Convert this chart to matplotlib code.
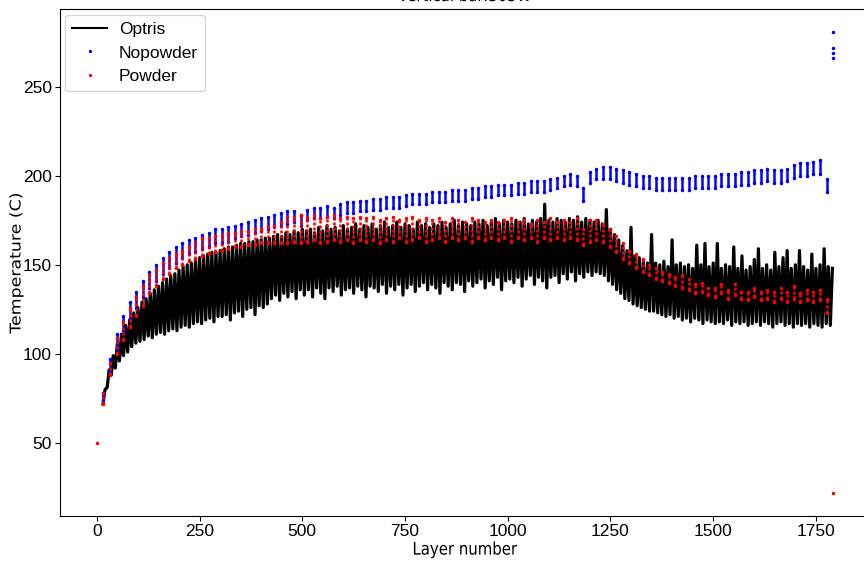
import matplotlib
matplotlib.use("Agg")
import matplotlib.pyplot as plt
import numpy as np
from matplotlib.patheffects import AbstractPathEffect
from matplotlib.transforms import Affine2D

# Optris camera: alternating low / high samples every 10 layers
optris_layer = np.arange(15, 1786, 10)
optris_low = [
    72, 81, 88, 92, 96, 99, 101, 104, 106, 107,
    108, 110, 109, 111, 112, 111, 113, 114, 113, 115,
    116, 115, 117, 118, 117, 119, 120, 118, 121, 121,
    122, 119, 123, 124, 121, 125, 126, 122, 127, 126,
    128, 131, 133, 130, 134, 132, 135, 131, 136, 133,
    136, 132, 137, 134, 131, 137, 135, 138, 133, 136,
    137, 134, 138, 136, 132, 138, 137, 135, 139, 134,
    138, 136, 139, 133, 137, 139, 135, 138, 140, 136,
    139, 137, 134, 140, 138, 136, 140, 139, 135, 141,
    138, 140, 142, 137, 141, 139, 143, 136, 141, 142,
    140, 143, 138, 142, 144, 139, 143, 141, 137, 143,
    144, 140, 145, 142, 146, 141, 145, 143, 146, 144,
    146, 145, 144, 141, 139, 136, 134, 131, 130, 128,
    127, 126, 125, 124, 124, 123, 122, 121, 122, 120,
    121, 119, 120, 118, 120, 119, 117, 119, 118, 117,
    118, 117, 119, 116, 118, 117, 118, 116, 117, 118,
    116, 118, 117, 115, 117, 118, 116, 117, 115, 117,
    116, 117, 115, 117, 116, 115, 117, 116,
]
optris_high = [
    80, 91, 99, 106, 111, 116, 119, 123, 126, 129,
    131, 134, 136, 138, 140, 142, 144, 145, 147, 149,
    150, 151, 153, 154, 155, 156, 157, 157, 158, 159,
    160, 160, 161, 162, 162, 163, 163, 164, 164, 165,
    165, 166, 167, 166, 168, 167, 169, 168, 170, 169,
    170, 168, 171, 169, 172, 170, 171, 169, 172, 170,
    171, 173, 170, 172, 171, 173, 170, 172, 174, 171,
    172, 174, 171, 173, 172, 170, 174, 172, 173, 171,
    173, 172, 174, 171, 173, 175, 172, 174, 173, 172,
    174, 173, 175, 172, 174, 176, 173, 175, 174, 173,
    175, 174, 176, 173, 175, 174, 176, 184, 175, 174,
    176, 175, 174, 176, 175, 177, 174, 176, 175, 174,
    175, 173, 181, 170, 167, 164, 161, 158, 171, 155,
    154, 152, 151, 167, 151, 150, 152, 149, 164, 150,
    151, 149, 150, 148, 161, 150, 162, 149, 151, 162,
    148, 150, 149, 160, 148, 155, 147, 149, 153, 159,
    148, 150, 147, 157, 149, 154, 158, 148, 150, 158,
    149, 147, 156, 148, 150, 159, 149, 148,
]

# thermocouple readings, one column of samples every 16 layers
column_layer = np.arange(16, 1777, 16)
nopowder_high = [
    78, 97, 111, 121, 129, 135, 141, 146, 150, 154,
    157, 160, 162, 164, 165, 167, 168, 170, 170, 171,
    172, 173, 174, 175, 176, 177, 178, 179, 180, 180,
    178, 181, 182, 182, 183, 182, 184, 185, 185, 186,
    186, 187, 187, 188, 188, 188, 189, 190, 190, 190,
    191, 191, 191, 192, 192, 192, 193, 193, 194, 194,
    195, 195, 195, 196, 196, 197, 197, 197, 198, 199,
    200, 201, 200, 193, 202, 204, 205, 205, 204, 203,
    202, 201, 200, 200, 199, 199, 199, 199, 199, 199,
    200, 200, 200, 200, 201, 201, 201, 202, 202, 203,
    203, 204, 203, 203, 204, 206, 207, 207, 208, 209,
    198,
]
nopowder_low = [
    74, 90, 103, 113, 120, 126, 132, 137, 141, 145,
    148, 151, 154, 156, 157, 159, 160, 162, 162, 163,
    165, 166, 167, 168, 169, 170, 171, 172, 173, 174,
    172, 175, 176, 176, 177, 176, 178, 179, 179, 180,
    180, 181, 181, 182, 182, 182, 183, 184, 184, 184,
    185, 185, 185, 186, 186, 186, 187, 187, 188, 188,
    189, 189, 189, 190, 190, 191, 191, 191, 192, 193,
    194, 195, 194, 186, 196, 198, 198, 198, 197, 196,
    195, 194, 193, 193, 192, 192, 192, 192, 192, 192,
    193, 193, 193, 193, 194, 194, 194, 195, 195, 196,
    196, 197, 196, 196, 197, 199, 200, 200, 201, 201,
    191,
]
powder_high = [
    78, 95, 109, 118, 126, 132, 138, 144, 147, 151,
    154, 156, 158, 160, 162, 165, 165, 166, 167, 168,
    168, 169, 169, 170, 170, 171, 172, 174, 177, 177,
    178, 177, 178, 176, 177, 178, 176, 177, 176, 177,
    176, 177, 175, 176, 177, 175, 176, 177, 175, 176,
    175, 176, 174, 176, 175, 174, 176, 175, 174, 175,
    174, 175, 176, 174, 175, 173, 175, 174, 176, 174,
    175, 174, 176, 170, 175, 175, 173, 170, 166, 162,
    158, 156, 153, 150, 148, 146, 145, 143, 144, 142,
    139, 140, 137, 137, 139, 136, 139, 135, 135, 137,
    135, 136, 135, 137, 135, 138, 134, 136, 135, 136,
    131,
]
powder_low = [
    72, 88, 100, 108, 115, 121, 127, 134, 138, 142,
    145, 148, 150, 152, 153, 155, 156, 157, 158, 159,
    160, 160, 161, 161, 162, 162, 162, 162, 162, 163,
    162, 163, 164, 162, 163, 164, 163, 164, 162, 164,
    163, 164, 162, 164, 163, 165, 163, 164, 165, 163,
    164, 165, 163, 165, 164, 165, 163, 165, 164, 165,
    164, 165, 163, 165, 164, 165, 163, 165, 164, 165,
    164, 165, 164, 161, 163, 164, 163, 160, 157, 153,
    151, 148, 146, 144, 142, 141, 140, 138, 137, 136,
    134, 135, 133, 132, 134, 131, 133, 131, 130, 132,
    130, 131, 129, 131, 129, 131, 129, 130, 129, 130,
    123,
]

# isolated readings
nopowder_extra_layer = [1792, 1792, 1792, 1792]
nopowder_extra_temp = [280.5, 272, 269, 266]
powder_extra_layer = [0, 1792]
powder_extra_temp = [50, 22]

SQUEEZE = 0.86  # the source figure was stored horizontally compressed
NARROW_FONT = "Liberation Sans"


class Squeeze(AbstractPathEffect):
    """Draw text glyphs narrower (sx) or thinner (sy), scaled about the string centre."""

    def __init__(self, sx=1.0, sy=1.0):
        super().__init__()
        self.sx, self.sy = sx, sy

    def draw_path(self, renderer, gc, tpath, affine, rgbFace=None):
        ext = tpath.get_extents()
        cx, cy = (ext.x0 + ext.x1) / 2, (ext.y0 + ext.y1) / 2
        squeeze = Affine2D().translate(-cx, -cy).scale(self.sx, self.sy).translate(cx, cy)
        renderer.draw_path(gc, tpath, squeeze + affine, rgbFace)


def set_style() -> None:
    plt.rcParams.update(
        {
            "font.family": "DejaVu Sans",
            "font.size": 12.5,
            "axes.titlesize": 12.5,
            "axes.labelsize": 12.5,
            "xtick.labelsize": 12.5,
            "ytick.labelsize": 12.5,
            "xtick.major.pad": 2.5,
            "ytick.major.pad": 2.5,
            "legend.fontsize": 12.5,
        }
    )


def main() -> None:
    set_style()
    fig = plt.figure(figsize=(8.64, 5.61), dpi=100)
    ax = fig.add_axes([60 / 864, 0.0806, 810 / 864, 0.9027])

    x = np.empty(2 * len(optris_layer))
    x[0::2] = optris_layer
    x[1::2] = optris_layer + 5
    y = np.empty(2 * len(optris_layer))
    y[0::2] = optris_low
    y[1::2] = optris_high
    ax.plot(x, y, color="k", lw=2.3, label="Optris")

    ax.vlines(column_layer, nopowder_low, nopowder_high, color="b", lw=1.8)
    ax.plot(np.r_[column_layer, column_layer, nopowder_extra_layer],
            np.r_[nopowder_high, nopowder_low, nopowder_extra_temp],
            ".", color="b", ms=3, label="Nopowder")
    ax.vlines(column_layer, powder_low, powder_high, color="r", lw=1.8,
              linestyles=(0, (1.2, 0.8)))
    ax.plot(np.r_[column_layer, column_layer, powder_extra_layer],
            np.r_[powder_high, powder_low, powder_extra_temp],
            ".", color="r", ms=3, label="Powder")

    ax.set_xticks([0, 250, 500, 750, 1000, 1250, 1500, 1750])
    ax.set_yticks([50, 100, 150, 200, 250])
    for t in ax.get_xticklabels() + ax.get_yticklabels():
        t.set_family(NARROW_FONT)
    ax.set_xlabel("Layer number")
    ax.set_ylabel("Temperature (C)")
    ax.xaxis.set_label_coords(0.5, -0.049)
    ax.yaxis.set_label_coords(-0.043, 0.5)
    title = ax.set_title("Vertical bar:305W")
    leg = ax.legend(loc="upper left", markerscale=0.9, borderaxespad=0.3,
                    handletextpad=0.7, borderpad=0.4, prop={"family": NARROW_FONT, "size": 12.5})
    leg.get_lines()[0].set_linewidth(1.5)

    ax.xaxis.label.set_path_effects([Squeeze(sx=SQUEEZE)])
    title.set_path_effects([Squeeze(sx=SQUEEZE)])
    ax.yaxis.label.set_path_effects([Squeeze(sy=SQUEEZE)])

    fig.savefig("out.png", dpi=100)


if __name__ == "__main__":
    main()
